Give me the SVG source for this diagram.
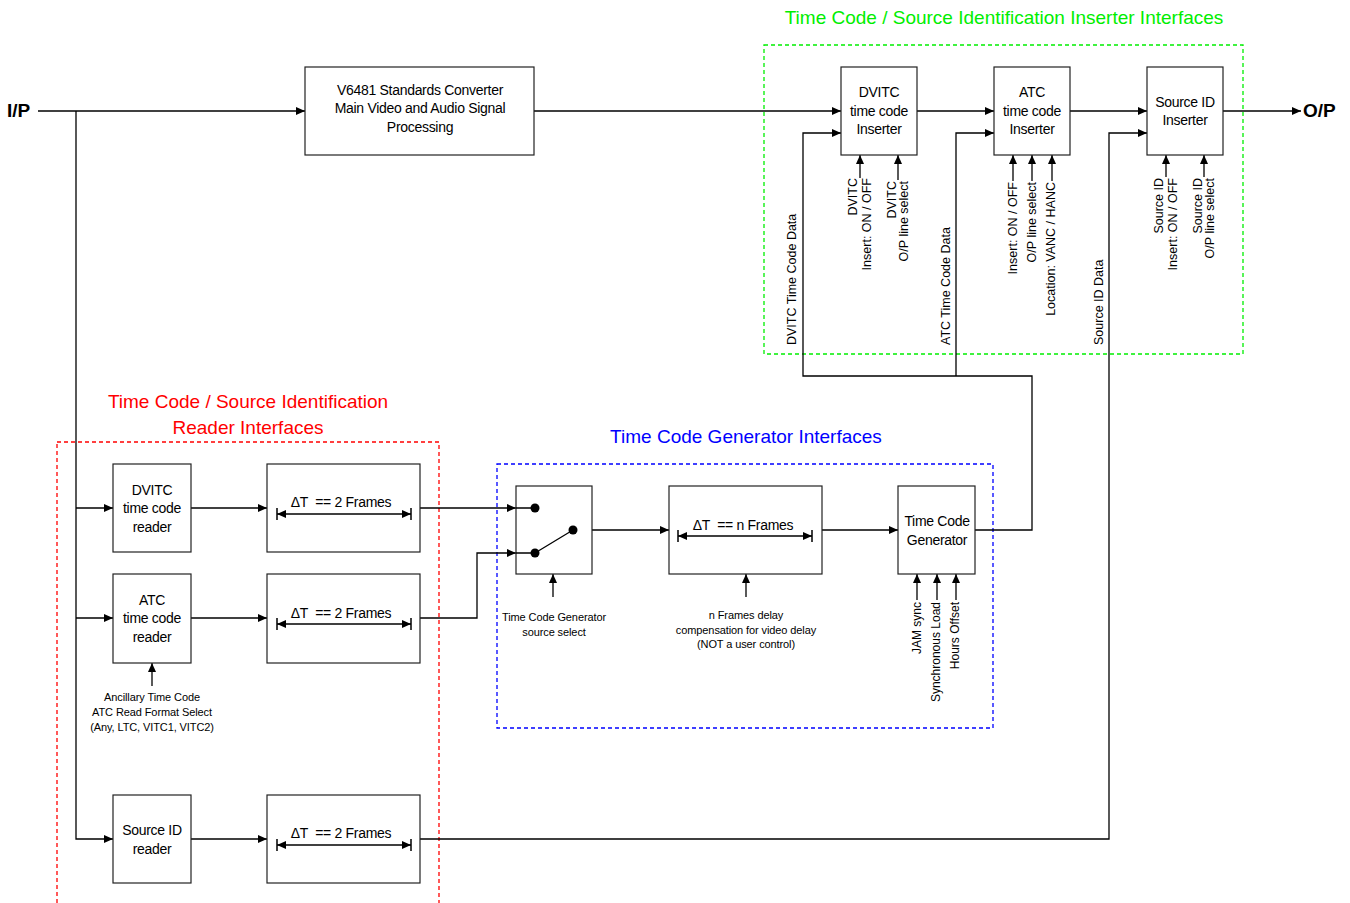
<svg xmlns="http://www.w3.org/2000/svg" width="1350" height="903" viewBox="0 0 1350 903">
<defs>
<marker id="ah" markerWidth="9" markerHeight="8" refX="9" refY="4" orient="auto-start-reverse" markerUnits="userSpaceOnUse"><path d="M0,0 L9,4 L0,8 z" fill="#000"/></marker>
</defs>
<style>
.box{fill:#fff;stroke:#222;stroke-width:1.2}
.ln{fill:none;stroke:#000;stroke-width:1.3}
.ar{marker-end:url(#ah)}
.dim{fill:none;stroke:#000;stroke-width:1.3;marker-start:url(#ah);marker-end:url(#ah)}
.bar{stroke:#000;stroke-width:1.5}
text{font-family:"Liberation Sans",Arial,sans-serif;fill:#000}
.t14{font-size:14px;letter-spacing:-0.3px;text-anchor:middle}
.t11{font-size:11px;letter-spacing:-0.1px;text-anchor:middle}
.r{font-size:12.5px}
.rs{font-size:12px}
.ttl{font-size:19px;text-anchor:middle}
.io{font-size:19px;font-weight:bold}
.dash{fill:none;stroke-width:1.3;stroke-dasharray:4 3}
</style>

<g id="group-inserters">
<rect class="dash" x="764" y="45" width="479" height="309" stroke="#00ee00"/>
<text class="ttl" x="1004" y="24" style="fill:#00ee00">Time Code / Source Identification Inserter Interfaces</text>
</g>
<g id="group-readers">
<rect class="dash" x="57" y="442" width="382" height="475" stroke="#ff0000"/>
<text class="ttl" x="248" y="408" style="fill:#ff0000">Time Code / Source Identification</text>
<text class="ttl" x="248" y="434" style="fill:#ff0000">Reader Interfaces</text>
</g>
<g id="group-generator">
<rect class="dash" x="497" y="464" width="496" height="264" stroke="#0000ff"/>
<text class="ttl" x="746" y="443" style="fill:#0000ff">Time Code Generator Interfaces</text>
</g>

<g id="connectors">
<path class="ln ar" d="M38,111 H305"/>
<path class="ln ar" d="M534,111 H841"/>
<path class="ln ar" d="M917,111 H994"/>
<path class="ln ar" d="M1070,111 H1147"/>
<path class="ln ar" d="M1223,111 H1301"/>
<path class="ln ar" d="M76,111 V839 H113"/>
<path class="ln ar" d="M76,508 H113"/>
<path class="ln ar" d="M76,618 H113"/>
<path class="ln ar" d="M191,508 H267"/>
<path class="ln ar" d="M191,618 H267"/>
<path class="ln ar" d="M191,839 H267"/>
<path class="ln ar" d="M420,508 H516"/>
<path class="ln ar" d="M420,618 H477 V553 H516"/>
<path class="ln ar" d="M420,839 H1109 V133 H1147"/>
<path class="ln ar" d="M573,530 H669"/>
<path class="ln ar" d="M822,530 H898"/>
<path class="ln ar" d="M975,530 H1032 V376 H803 V133 H841"/>
<path class="ln ar" d="M956,376 V133 H994"/>
<path class="ln ar" d="M860,178 V155"/>
<path class="ln ar" d="M898,180 V155"/>
<path class="ln ar" d="M1013,181 V155"/>
<path class="ln ar" d="M1032,181 V155"/>
<path class="ln ar" d="M1052,181 V155"/>
<path class="ln ar" d="M1166,177 V155"/>
<path class="ln ar" d="M1204,177 V155"/>
<path class="ln ar" d="M152,686 V663"/>
<path class="ln ar" d="M553,597 V574"/>
<path class="ln ar" d="M746,597 V574"/>
<path class="ln ar" d="M917,600 V574"/>
<path class="ln ar" d="M937,600 V574"/>
<path class="ln ar" d="M956,600 V574"/>
</g>

<g id="io-labels">
<text class="io" x="7" y="117">I/P</text>
<text class="io" x="1303" y="117">O/P</text>
</g>

<g id="node-v6481">
<rect class="box" x="305" y="67" width="229" height="88"/>
<text class="t14" x="420" y="95">V6481 Standards Converter</text>
<text class="t14" x="420" y="113">Main Video and Audio Signal</text>
<text class="t14" x="420" y="132">Processing</text>
</g>

<g id="node-dvitc-inserter">
<rect class="box" x="841" y="67" width="76" height="88"/>
<text class="t14" x="879" y="97">DVITC</text>
<text class="t14" x="879" y="116">time code</text>
<text class="t14" x="879" y="134">Inserter</text>
</g>
<g id="node-atc-inserter">
<rect class="box" x="994" y="67" width="76" height="88"/>
<text class="t14" x="1032" y="97">ATC</text>
<text class="t14" x="1032" y="116">time code</text>
<text class="t14" x="1032" y="134">Inserter</text>
</g>
<g id="node-sourceid-inserter">
<rect class="box" x="1147" y="67" width="76" height="88"/>
<text class="t14" x="1185" y="107">Source ID</text>
<text class="t14" x="1185" y="125">Inserter</text>
</g>

<g id="inserter-labels">
<text class="r" text-anchor="start" transform="translate(795.5,345) rotate(-90)">DVITC Time Code Data</text>
<text class="r" text-anchor="start" transform="translate(949.5,345) rotate(-90)">ATC Time Code Data</text>
<text class="r" text-anchor="start" transform="translate(1102.5,345) rotate(-90)">Source ID Data</text>
<text class="r" text-anchor="end" transform="translate(856.5,178) rotate(-90)">DVITC</text>
<text class="r" text-anchor="end" transform="translate(870.5,178) rotate(-90)">Insert: ON / OFF</text>
<text class="r" text-anchor="end" transform="translate(895.5,181) rotate(-90)">DVITC</text>
<text class="r" text-anchor="end" transform="translate(907.5,181) rotate(-90)">O/P line select</text>
<text class="r" text-anchor="end" transform="translate(1016.5,182) rotate(-90)">Insert: ON / OFF</text>
<text class="r" text-anchor="end" transform="translate(1035.5,182) rotate(-90)">O/P line select</text>
<text class="r" text-anchor="end" transform="translate(1054.5,182) rotate(-90)">Location: VANC / HANC</text>
<text class="r" text-anchor="end" transform="translate(1162.5,178) rotate(-90)">Source ID</text>
<text class="r" text-anchor="end" transform="translate(1176.5,178) rotate(-90)">Insert: ON / OFF</text>
<text class="r" text-anchor="end" transform="translate(1201.5,178) rotate(-90)">Source ID</text>
<text class="r" text-anchor="end" transform="translate(1213.5,178) rotate(-90)">O/P line select</text>
</g>

<g id="node-dvitc-reader">
<rect class="box" x="113" y="464" width="78" height="88"/>
<text class="t14" x="152" y="495">DVITC</text>
<text class="t14" x="152" y="513">time code</text>
<text class="t14" x="152" y="532">reader</text>
</g>
<g id="node-dvitc-delay">
<rect class="box" x="267" y="464" width="153" height="88"/>
<text class="t14" x="341" y="507">ΔT&#160; == 2 Frames</text>
<path class="dim" d="M277,514 H411"/>
<path class="bar" d="M277,508 V520 M411,508 V520"/>
</g>

<g id="node-atc-reader">
<rect class="box" x="113" y="574" width="78" height="89"/>
<text class="t14" x="152" y="605">ATC</text>
<text class="t14" x="152" y="623">time code</text>
<text class="t14" x="152" y="642">reader</text>
</g>
<g id="node-atc-delay">
<rect class="box" x="267" y="574" width="153" height="89"/>
<text class="t14" x="341" y="618">ΔT&#160; == 2 Frames</text>
<path class="dim" d="M277,624 H411"/>
<path class="bar" d="M277,618 V630 M411,618 V630"/>
</g>
<g id="atc-format-label">
<text class="t11" x="152" y="701">Ancillary Time Code</text>
<text class="t11" x="152" y="716">ATC Read Format Select</text>
<text class="t11" x="152" y="731">(Any, LTC, VITC1, VITC2)</text>
</g>

<g id="node-sourceid-reader">
<rect class="box" x="113" y="795" width="78" height="88"/>
<text class="t14" x="152" y="835">Source ID</text>
<text class="t14" x="152" y="854">reader</text>
</g>
<g id="node-sourceid-delay">
<rect class="box" x="267" y="795" width="153" height="88"/>
<text class="t14" x="341" y="838">ΔT&#160; == 2 Frames</text>
<path class="dim" d="M277,845 H411"/>
<path class="bar" d="M277,839 V851 M411,839 V851"/>
</g>

<g id="node-source-switch">
<rect class="box" x="516" y="486" width="76" height="88"/>
<path class="ln" d="M516,508 H535 M516,553 H535 M535,553 L573,530"/>
<circle cx="535" cy="508" r="4.5" fill="#000"/>
<circle cx="535" cy="553" r="4.5" fill="#000"/>
<circle cx="573" cy="530" r="4.5" fill="#000"/>
<text class="t11" x="554" y="621">Time Code Generator</text>
<text class="t11" x="554" y="636">source select</text>
</g>

<g id="node-n-delay">
<rect class="box" x="669" y="486" width="153" height="88"/>
<text class="t14" x="743" y="530">ΔT&#160; == n Frames</text>
<path class="dim" d="M678,536 H812"/>
<path class="bar" d="M678,530 V542 M812,530 V542"/>
<text class="t11" x="746" y="619">n Frames delay</text>
<text class="t11" x="746" y="634">compensation for video delay</text>
<text class="t11" x="746" y="648">(NOT a user control)</text>
</g>

<g id="node-tc-generator">
<rect class="box" x="898" y="486" width="77" height="88"/>
<text class="t14" x="937" y="526">Time Code</text>
<text class="t14" x="937" y="545">Generator</text>
<text class="rs" text-anchor="end" transform="translate(920.5,602) rotate(-90)">JAM sync</text>
<text class="rs" text-anchor="end" transform="translate(939.5,602) rotate(-90)">Synchronous Load</text>
<text class="rs" text-anchor="end" transform="translate(958.5,602) rotate(-90)">Hours Offset</text>
</g>
</svg>
